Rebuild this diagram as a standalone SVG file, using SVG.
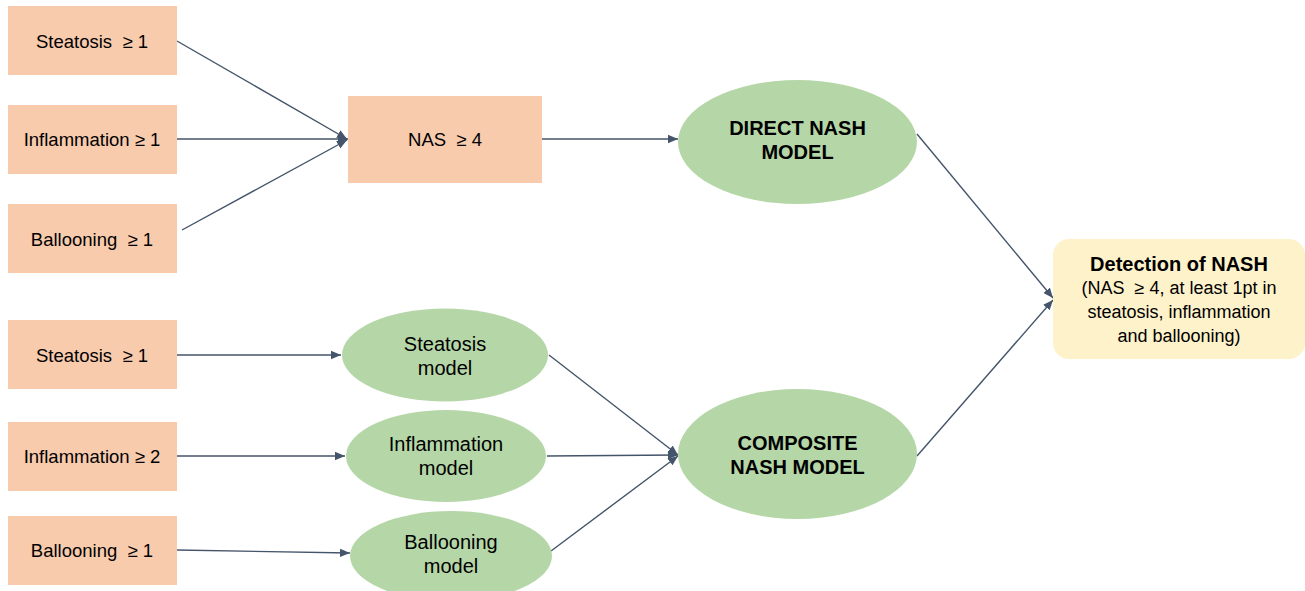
<svg xmlns="http://www.w3.org/2000/svg" width="1305" height="591" viewBox="0 0 1305 591">
<defs>
<marker id="arr" markerUnits="userSpaceOnUse" markerWidth="11" markerHeight="10" refX="10" refY="5" orient="auto">
<path d="M0,0.8 L10,5 L0,9.2 Z" fill="#44546A"/>
</marker>
<style>
.box{fill:#F8CBAD}
.ell{fill:#B5D7A8}
.det{fill:#FEF2CB}
text{white-space:pre}
.t{font-family:"Liberation Sans",Arial,sans-serif;font-size:18.5px;fill:#000;text-anchor:middle;dominant-baseline:central}
.d{font-family:"Liberation Sans",Arial,sans-serif;font-size:18px;fill:#000;text-anchor:middle;dominant-baseline:central}
.m{font-family:"Liberation Sans",Arial,sans-serif;font-size:20px;fill:#000;text-anchor:middle;dominant-baseline:central}
.b{font-family:"Liberation Sans",Arial,sans-serif;font-size:20px;font-weight:bold;fill:#000;text-anchor:middle;dominant-baseline:central}
.c{fill:none;stroke:#44546A;stroke-width:1.4;marker-end:url(#arr)}
</style>
</defs>
<rect width="1305" height="591" fill="#fff"/>
<g id="connectors">
<line class="c" x1="177" y1="41" x2="347" y2="139"/>
<line class="c" x1="177" y1="139" x2="348" y2="139"/>
<line class="c" x1="182" y1="230" x2="347" y2="140"/>
<line class="c" x1="542" y1="139" x2="678" y2="139"/>
<line class="c" x1="177" y1="355" x2="341" y2="355"/>
<line class="c" x1="177" y1="456" x2="345" y2="456"/>
<line class="c" x1="177" y1="550" x2="350" y2="553"/>
<line class="c" x1="549" y1="355" x2="678" y2="455"/>
<line class="c" x1="547" y1="456" x2="678" y2="455"/>
<line class="c" x1="551" y1="551" x2="678" y2="456"/>
<line class="c" x1="917" y1="134" x2="1053" y2="298"/>
<line class="c" x1="917" y1="456" x2="1053" y2="300"/>
</g>
<g id="steatosis1"><rect class="box" x="8" y="6" width="169" height="69"/><text class="t" x="92" y="41">Steatosis  ≥ 1</text></g>
<g id="inflammation1"><rect class="box" x="8" y="105" width="169" height="69"/><text class="t" x="92" y="139">Inflammation ≥ 1</text></g>
<g id="ballooning1"><rect class="box" x="8" y="204" width="169" height="69"/><text class="t" x="92" y="239">Ballooning  ≥ 1</text></g>
<g id="nas"><rect class="box" x="348" y="96" width="194" height="87"/><text class="t" x="445" y="139">NAS  ≥ 4</text></g>
<g id="direct"><ellipse class="ell" cx="797.5" cy="142" rx="119.5" ry="62"/><text class="b" x="797.5" y="128">DIRECT NASH</text><text class="b" x="797.5" y="152">MODEL</text></g>
<g id="steatosis2"><rect class="box" x="8" y="320" width="169" height="69"/><text class="t" x="92" y="355">Steatosis  ≥ 1</text></g>
<g id="inflammation2"><rect class="box" x="8" y="422" width="169" height="69"/><text class="t" x="92" y="456">Inflammation ≥ 2</text></g>
<g id="ballooning2"><rect class="box" x="8" y="516" width="169" height="69"/><text class="t" x="92" y="550">Ballooning  ≥ 1</text></g>
<g id="steatosisModel"><ellipse class="ell" cx="445" cy="355" rx="103" ry="46.5"/><text class="m" x="445" y="344">Steatosis</text><text class="m" x="445" y="368">model</text></g>
<g id="inflammationModel"><ellipse class="ell" cx="446" cy="456" rx="100" ry="46"/><text class="m" x="446" y="444">Inflammation</text><text class="m" x="446" y="468">model</text></g>
<g id="ballooningModel"><ellipse class="ell" cx="451" cy="556" rx="101" ry="45"/><text class="m" x="451" y="542">Ballooning</text><text class="m" x="451" y="566">model</text></g>
<g id="composite"><ellipse class="ell" cx="797.5" cy="454" rx="119.5" ry="65"/><text class="b" x="797.5" y="443">COMPOSITE</text><text class="b" x="797.5" y="467">NASH MODEL</text></g>
<g id="detection"><rect class="det" x="1053" y="239" width="252" height="120" rx="16"/><text class="b" x="1179" y="264">Detection of NASH</text><text class="d" x="1179" y="288">(NAS  ≥ 4, at least 1pt in</text><text class="d" x="1179" y="312">steatosis, inflammation</text><text class="d" x="1179" y="336">and ballooning)</text></g>
</svg>
